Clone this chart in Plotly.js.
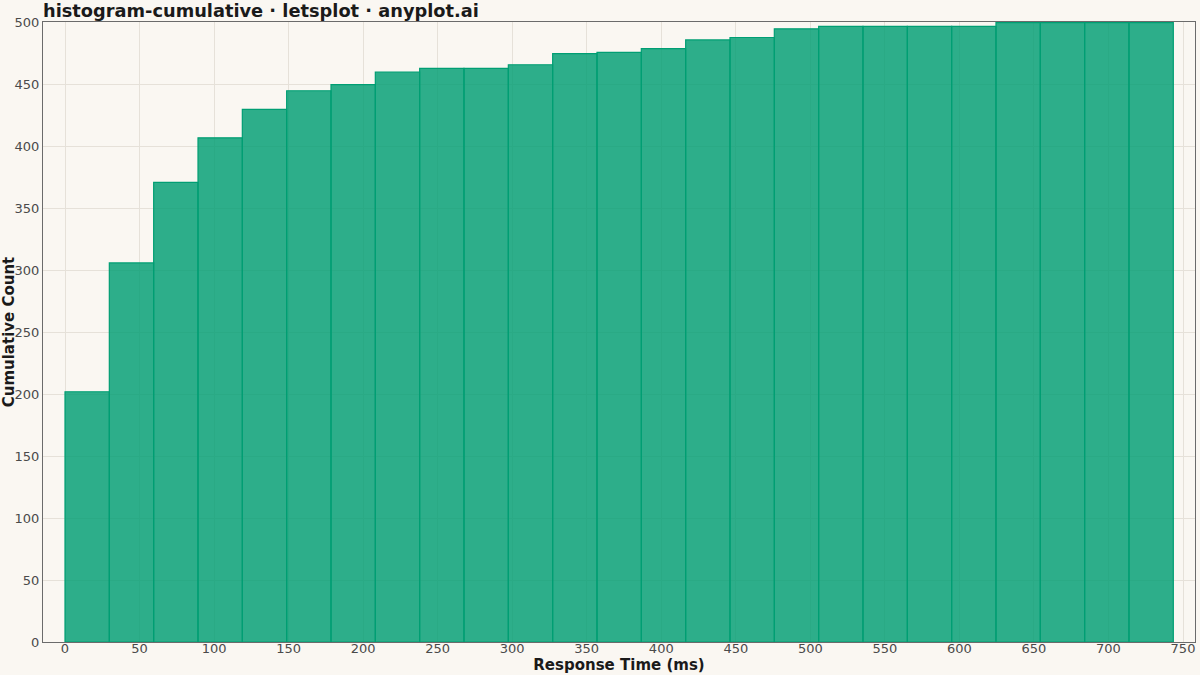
<!DOCTYPE html>
<html>
<head>
<meta charset="utf-8">
<script src="https://cdn.plot.ly/plotly-3.0.1.min.js"></script>
<style>html,body{margin:0;padding:0;background:#FAF7F2;}#chart{width:1200px;height:675px;}</style>
</head>
<body>
<div id="chart"></div>
<script>
// Bin centers (ms) of the 25 histogram bins
const binCenters = [14.87, 44.61, 74.35, 104.09, 133.83, 163.57, 193.31, 223.05, 252.79, 282.53,
  312.27, 342.01, 371.75, 401.49, 431.23, 460.97, 490.71, 520.45, 550.19, 579.93,
  609.67, 639.41, 669.15, 698.89, 728.63];
const binWidth = 29.74;
// Cumulative counts
const cumulativeCounts = [202, 306, 371, 407, 430, 445, 450, 460, 463, 463,
  466, 475, 476, 479, 486, 488, 495, 497, 497, 497,
  497, 500, 500, 500, 500];
const xTicks = [0, 50, 100, 150, 200, 250, 300, 350, 400, 450, 500, 550, 600, 650, 700, 750];
const yTicks = [0, 50, 100, 150, 200, 250, 300, 350, 400, 450, 500];

const trace = {
  type: 'bar',
  x: binCenters,
  y: cumulativeCounts,
  width: binCenters.map(() => binWidth),
  marker: {color: 'rgba(0,158,115,0.82)', line: {color: '#009E73', width: 1.2}},
  hoverinfo: 'x+y'
};

const font = 'DejaVu Sans, sans-serif';
const layout = {
  width: 1200, height: 675,
  paper_bgcolor: '#FAF7F2', plot_bgcolor: '#FAF7F2',
  margin: {l: 43, r: 5, t: 22, b: 33, pad: 0},
  bargap: 0,
  showlegend: false,
  title: {text: '<b>histogram-cumulative · letsplot · anyplot.ai</b>', font: {family: font, size: 17.8, color: '#1a1a1a'},
    x: 43/1200, xanchor: 'left', xref: 'container', y: 1 - 10.5/675, yanchor: 'middle', yref: 'container', pad: {t: 0, b: 0}},
  xaxis: {
    range: [-14.76, 758.05], tickvals: xTicks, ticktext: xTicks.map(String),
    showgrid: true, gridcolor: '#E6E1D9', gridwidth: 1, zeroline: false,
    showline: true, linecolor: '#6b6b6b', linewidth: 1, mirror: true,
    ticks: '', ticklabelstandoff: -6,
    tickfont: {family: font, size: 13, color: '#4a4a4a'},
    title: {text: '<b>Response Time (ms)</b>', font: {family: font, size: 15, color: '#1a1a1a'}, standoff: 0}
  },
  yaxis: {
    range: [0, 500.5], tickvals: yTicks, ticktext: yTicks.map(String),
    showgrid: true, gridcolor: '#E6E1D9', gridwidth: 1, zeroline: false,
    showline: true, linecolor: '#6b6b6b', linewidth: 1, mirror: true,
    ticks: '', ticklen: 0,
    tickfont: {family: font, size: 13, color: '#4a4a4a'},
    title: {text: '<b>Cumulative Count</b>', font: {family: font, size: 15, color: '#1a1a1a'}, standoff: 4}
  }
};
Plotly.newPlot('chart', [trace], layout, {displayModeBar: false, staticPlot: true});
</script>
</body>
</html>
